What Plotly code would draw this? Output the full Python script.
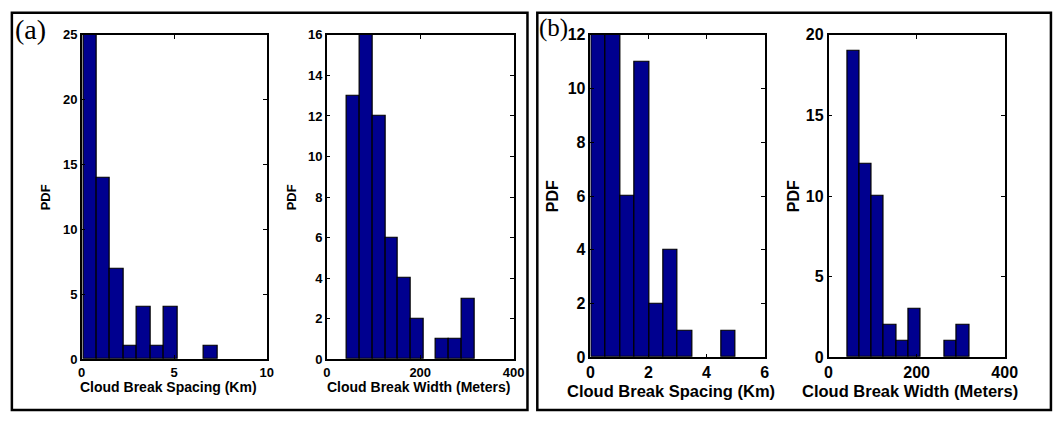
import numpy as np
import plotly.graph_objects as go

W, H = 1060, 421

# Histogram counts (10 bins each) and bin ranges
spacing_a_counts = [25, 14, 7, 1, 4, 1, 4, 0, 0, 1]
spacing_a_range = (0.09, 7.34)
width_a_counts = [13, 16, 12, 6, 4, 2, 0, 1, 1, 3]
width_a_range = (43.7, 315.7)
spacing_b_counts = [12, 12, 6, 11, 2, 4, 1, 0, 0, 1]
spacing_b_range = (0.03, 5.0)
width_b_counts = [19, 12, 10, 2, 1, 3, 0, 0, 1, 2]
width_b_range = (42.5, 319.5)

# Axis tick values
spacing_a_xticks = [0, 5, 10]
spacing_a_yticks = [0, 5, 10, 15, 20, 25]
width_a_xticks = [0, 200, 400]
width_a_yticks = [0, 2, 4, 6, 8, 10, 12, 14, 16]
spacing_b_xticks = [0, 2, 4, 6]
spacing_b_yticks = [0, 2, 4, 6, 8, 10, 12]
width_b_xticks = [0, 200, 400]
width_b_yticks = [0, 5, 10, 15, 20]

BAR = "rgb(0,0,143)"
FONT = "Liberation Sans"

panels = [
    dict(c=spacing_a_counts, br=spacing_a_range, xr=[0, 10], yr=[0, 25], xt=spacing_a_xticks, yt=spacing_a_yticks,
         px=(79, 267, 28, 366), ts=13, ls=14, xl="Cloud Break Spacing (Km)", xly=395, pdfx=42, pdfs=13, xlc=167),
    dict(c=width_a_counts, br=width_a_range, xr=[0, 400], yr=[0, 16], xt=width_a_xticks, yt=width_a_yticks,
         px=(328, 518, 28, 366), ts=13, ls=14, xl="Cloud Break Width (Meters)", xly=395, pdfx=292, pdfs=13, xlc=421),
    dict(c=spacing_b_counts, br=spacing_b_range, xr=[0, 6], yr=[0, 12], xt=spacing_b_xticks, yt=spacing_b_yticks,
         px=(596, 773, 28, 364), ts=16, ls=16.5, xl="Cloud Break Spacing (Km)", xly=399, pdfx=557, pdfs=16, xlc=678),
    dict(c=width_b_counts, br=width_b_range, xr=[0, 400], yr=[0, 20], xt=width_b_xticks, yt=width_b_yticks,
         px=(838, 1017, 28, 364), ts=16, ls=16.5, xl="Cloud Break Width (Meters)", xly=399, pdfx=802, pdfs=16, xlc=921),
]


def bold(v):
    return f"<b>{v}</b>"


fig = go.Figure()
annotations = []
for i, p in enumerate(panels, start=1):
    lo, hi = p["br"]
    edges = np.linspace(lo, hi, len(p["c"]) + 1)
    centers = (edges[:-1] + edges[1:]) / 2
    bw = edges[1] - edges[0]
    # empty bins are left undrawn
    heights = [v if v > 0 else None for v in p["c"]]
    xa = "x" if i == 1 else f"x{i}"
    ya = "y" if i == 1 else f"y{i}"
    fig.add_trace(go.Bar(
        x=centers, y=heights, width=bw, xaxis=xa, yaxis=ya,
        marker=dict(color=BAR, line=dict(color="black", width=1.2)),
        showlegend=False,
    ))
    l, r, t, b = p["px"]
    axis_common = dict(
        showline=True, linecolor="black", linewidth=1.5, mirror="ticks",
        ticks="inside", ticklen=4, tickwidth=1.2, tickcolor="black",
        showgrid=False, zeroline=False, fixedrange=True,
        tickfont=dict(family=FONT, size=p["ts"], color="black"),
    )
    fig.update_layout(**{
        ("xaxis" if i == 1 else f"xaxis{i}"): dict(
            domain=[l / W, r / W], range=p["xr"], tickvals=p["xt"],
            ticktext=[bold(v) for v in p["xt"]], anchor=ya, **axis_common),
        ("yaxis" if i == 1 else f"yaxis{i}"): dict(
            domain=[1 - b / H, 1 - t / H], range=p["yr"], tickvals=p["yt"],
            ticktext=[bold(v) for v in p["yt"]], anchor=xa, **axis_common),
    })
    annotations.append(dict(
        text=bold(p["xl"]), x=p["xlc"] / W, y=1 - p["xly"] / H, xref="paper", yref="paper",
        showarrow=False, xanchor="center", yanchor="middle",
        font=dict(family=FONT, size=p["ls"], color="black")))
    annotations.append(dict(
        text=bold("PDF"), x=p["pdfx"] / W, y=1 - ((t + b) / 2) / H, xref="paper", yref="paper",
        showarrow=False, xanchor="center", yanchor="middle", textangle=-90,
        font=dict(family=FONT, size=p["pdfs"], color="black")))

# Panel letters
annotations.append(dict(text="(a)", x=27 / W, y=1 - 22 / H, xref="paper", yref="paper",
                        showarrow=False, xanchor="center", yanchor="middle",
                        font=dict(family="Liberation Serif", size=28, color="black")))
annotations.append(dict(text="(b)", x=558 / W, y=1 - 21 / H, xref="paper", yref="paper",
                        showarrow=False, xanchor="center", yanchor="middle",
                        font=dict(family="Liberation Serif", size=25, color="black")))

# Frames around each group of panels
shapes = [
    dict(type="rect", xref="paper", yref="paper", x0=8 / W, x1=532 / W, y0=1 - 419 / H, y1=1 - 5 / H,
         line=dict(color="black", width=2.5), layer="above"),
    dict(type="rect", xref="paper", yref="paper", x0=542 / W, x1=1064 / W, y0=1 - 419 / H, y1=1 - 5 / H,
         line=dict(color="black", width=2.5), layer="above"),
]

fig.update_layout(
    width=W, height=H, margin=dict(l=0, r=0, t=0, b=0),
    paper_bgcolor="white", plot_bgcolor="white",
    bargap=0, annotations=annotations, shapes=shapes,
)

fig.write_html("out.html", config={"displayModeBar": False})
